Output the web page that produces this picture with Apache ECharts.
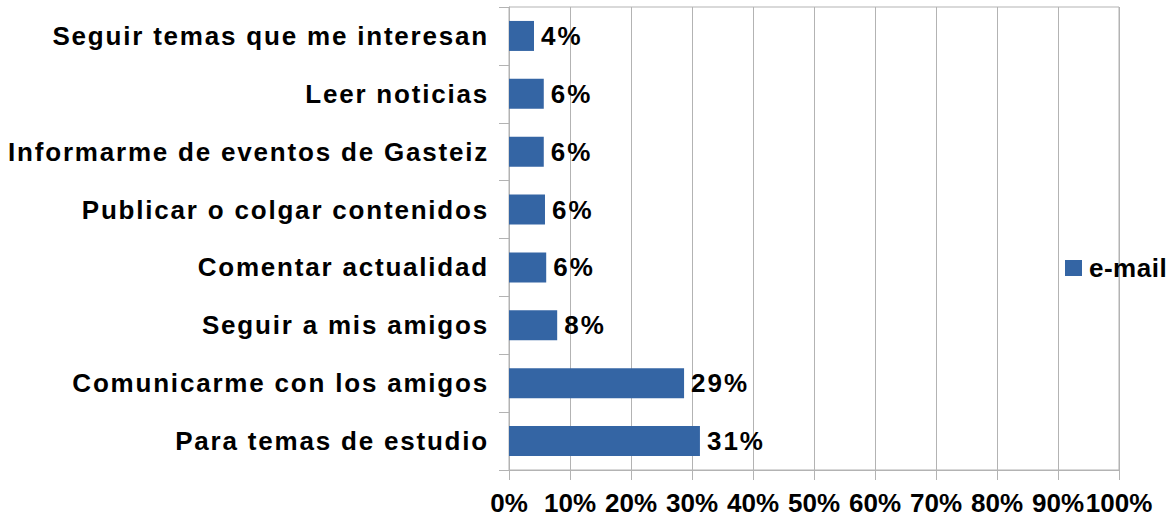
<!DOCTYPE html>
<html>
<head>
<meta charset="utf-8">
<script src="https://cdn.jsdelivr.net/npm/echarts@6/dist/echarts.min.js"></script>
<style>
  html, body { margin: 0; padding: 0; background: #fff; }
  #chart { width: 1168px; height: 518px; }
</style>
</head>
<body>
<div id="chart"></div>
<script>
  var categories = [
    'Seguir temas que me interesan',
    'Leer noticias',
    'Informarme de eventos de Gasteiz',
    'Publicar o colgar contenidos',
    'Comentar actualidad',
    'Seguir a mis amigos',
    'Comunicarme con los amigos',
    'Para temas de estudio'
  ];
  var emailValues = [4.1, 5.7, 5.7, 5.9, 6.1, 7.9, 28.7, 31.3];
  var seriesName = 'e-mail';

  var font = '"Liberation Sans", Arial, sans-serif';
  var gray = '#b3b3b3';

  function pct(v) { return Math.round(v) + '%'; }

  var chart = echarts.init(document.getElementById('chart'), null, { renderer: 'svg' });
  chart.setOption({
    animation: false,
    textStyle: { fontFamily: font },
    grid: {
      left: 509, right: 49, top: 7, bottom: 48,
      show: true, borderColor: gray, borderWidth: 1
    },
    legend: {
      data: [seriesName],
      orient: 'vertical',
      left: 1065,
      top: 255,
      padding: 0,
      itemWidth: 17,
      itemHeight: 16,
      icon: 'rect',
      textStyle: { fontFamily: font, fontSize: 26, fontWeight: 'bold', color: '#000', padding: [0, 0, 0, 2] }
    },
    xAxis: {
      type: 'value',
      min: 0, max: 100, interval: 10,
      axisLine: { show: true, lineStyle: { color: gray } },
      axisTick: { show: true, length: 10, lineStyle: { color: gray } },
      splitLine: { show: true, lineStyle: { color: gray } },
      axisLabel: {
        margin: 20,
        fontFamily: font, fontSize: 26, fontWeight: 'bold', color: '#000',
        formatter: function (v) { return v + '%'; }
      }
    },
    yAxis: {
      type: 'category',
      inverse: true,
      data: categories,
      axisLine: { show: true, lineStyle: { color: gray } },
      axisTick: { show: true, length: 10, lineStyle: { color: gray } },
      axisLabel: {
        margin: 20,
        fontFamily: font, fontSize: 26, fontWeight: 'bold', color: '#000'
      }
    },
    series: [{
      name: seriesName,
      type: 'bar',
      data: emailValues,
      barWidth: 30,
      itemStyle: { color: '#3465a4' },
      label: {
        show: true,
        position: 'right',
        distance: 7,
        fontFamily: font, fontSize: 26, fontWeight: 'bold', color: '#000',
        formatter: function (p) { return pct(p.value); }
      }
    }]
  });

  // the original renders category and value labels slightly letter-spaced
  var valueLabels = emailValues.map(pct);
  var nodes = document.querySelectorAll('#chart text');
  for (var i = 0; i < nodes.length; i++) {
    var t = nodes[i].textContent;
    if (categories.indexOf(t) >= 0) nodes[i].style.letterSpacing = '1.8px';
    else if (valueLabels.indexOf(t) >= 0) nodes[i].style.letterSpacing = '2px';
    else if (t === seriesName) nodes[i].style.letterSpacing = '0.5px';
  }
</script>
</body>
</html>
